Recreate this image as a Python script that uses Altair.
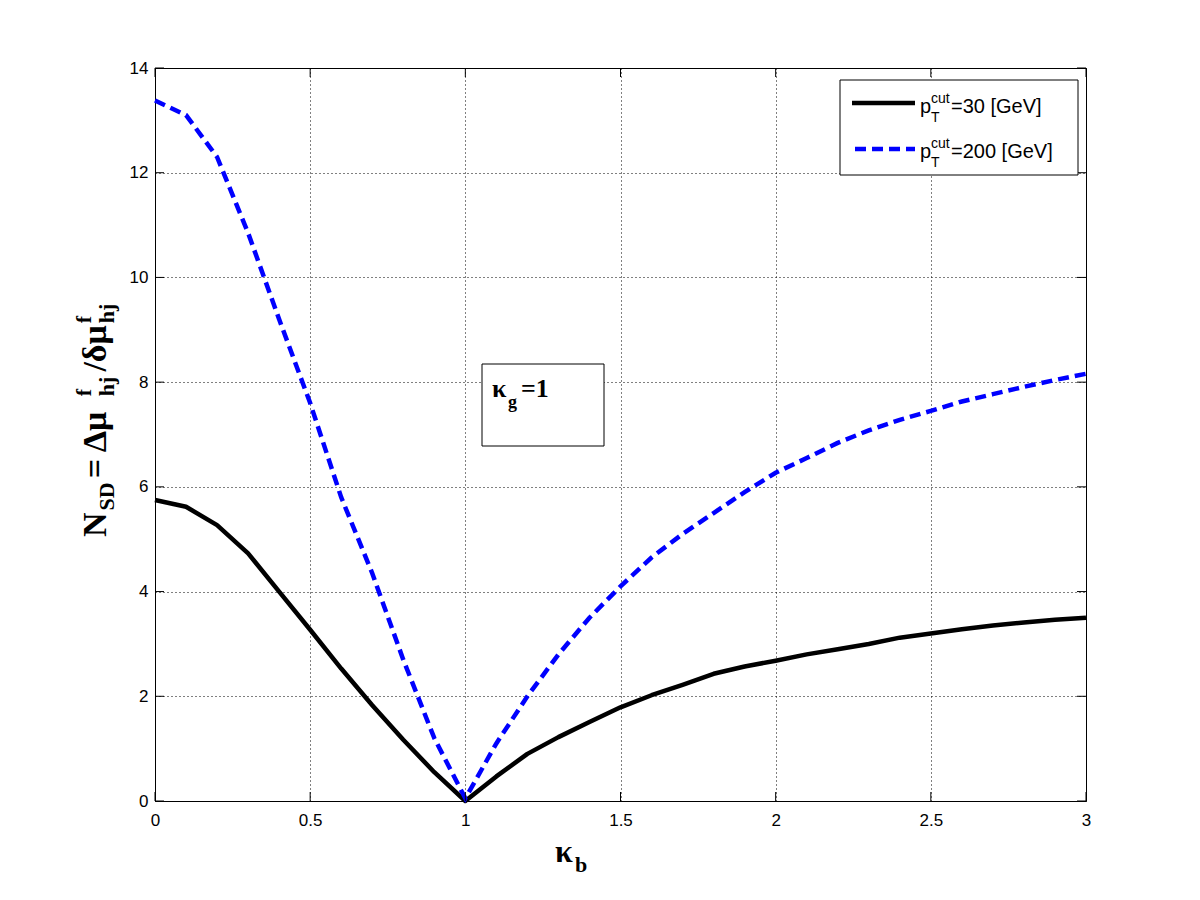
import altair as alt
import pandas as pd

# ---- data ----
kappa_b = [0.0, 0.1, 0.2, 0.3, 0.4, 0.5, 0.6, 0.7, 0.8, 0.9, 1.0,
           1.1, 1.2, 1.3, 1.4, 1.5, 1.6, 1.7, 1.8, 1.9, 2.0,
           2.1, 2.2, 2.3, 2.4, 2.5, 2.6, 2.7, 2.8, 2.9, 3.0]
nsd_30 = [5.75, 5.62, 5.27, 4.73, 4.0, 3.27, 2.53, 1.83, 1.17, 0.55, 0.0,
          0.47, 0.9, 1.22, 1.51, 1.79, 2.02, 2.22, 2.43, 2.57, 2.68,
          2.8, 2.9, 3.0, 3.12, 3.2, 3.28, 3.35, 3.41, 3.46, 3.5]
nsd_200 = [13.38, 13.1, 12.3, 10.85, 9.2, 7.6, 5.8, 4.35, 2.7, 1.2, 0.05,
           1.1, 2.0, 2.8, 3.5, 4.1, 4.65, 5.1, 5.5, 5.9, 6.27,
           6.55, 6.84, 7.08, 7.28, 7.45, 7.63, 7.77, 7.91, 8.04, 8.16]
series_names = ["pT30", "pT200"]
x_ticks = [0, 0.5, 1, 1.5, 2, 2.5, 3]
y_ticks = [0, 2, 4, 6, 8, 10, 12, 14]

W, H = 931, 733

rows = []
for name, vals in zip(series_names, [nsd_30, nsd_200]):
    for xv, yv in zip(kappa_b, vals):
        rows.append({"kb": xv, "nsd": yv, "series": name})
df = pd.DataFrame(rows)
one = pd.DataFrame({"a": [0]})

xs = alt.Scale(domain=[0, 3], nice=False, zero=False)
ys = alt.Scale(domain=[0, 14], nice=False, zero=False)

base = alt.Chart(df).encode(
    x=alt.X("kb:Q", scale=xs,
            axis=alt.Axis(values=x_ticks, title=None, ticks=False, domain=False,
                          grid=True, labelPadding=11, format="~g", labelFlush=False)),
    y=alt.Y("nsd:Q", scale=ys,
            axis=alt.Axis(values=y_ticks, title=None, ticks=False, domain=False,
                          grid=True, labelPadding=7, format="~g", labelFlush=False)),
)
line30 = base.transform_filter(alt.datum.series == "pT30").mark_line(
    color="#000000", strokeWidth=4.5, strokeJoin="round")
line200 = base.transform_filter(alt.datum.series == "pT200").mark_line(
    color="#0000FF", strokeWidth=4.5, strokeDash=[11, 6])

tdf_x = pd.DataFrame({"t": x_ticks})
tdf_y = pd.DataFrame({"t": y_ticks})
tick_b = alt.Chart(tdf_x).mark_rule(color="black", strokeWidth=1).encode(
    x=alt.X("t:Q", scale=xs), y=alt.value(H), y2=alt.value(H - 9))
tick_t = alt.Chart(tdf_x).mark_rule(color="black", strokeWidth=1).encode(
    x=alt.X("t:Q", scale=xs), y=alt.value(0), y2=alt.value(9))
tick_l = alt.Chart(tdf_y).mark_rule(color="black", strokeWidth=1).encode(
    y=alt.Y("t:Q", scale=ys), x=alt.value(0), x2=alt.value(9))
tick_r = alt.Chart(tdf_y).mark_rule(color="black", strokeWidth=1).encode(
    y=alt.Y("t:Q", scale=ys), x=alt.value(W), x2=alt.value(W - 9))


def txt(s, x, y, size, font="Liberation Serif", weight="bold", angle=0):
    return alt.Chart(one).mark_text(
        text=s, font=font, fontWeight=weight, fontSize=size, angle=angle,
        align="left", baseline="alphabetic", color="black"
    ).encode(x=alt.value(x), y=alt.value(y))


def box(x1, y1, x2, y2):
    return alt.Chart(one).mark_rect(fill="white", stroke="black", strokeWidth=1).encode(
        x=alt.value(x1), x2=alt.value(x2), y=alt.value(y1), y2=alt.value(y2))


layers = [line30, line200, tick_b, tick_t, tick_l, tick_r]

# legend
layers.append(box(685, 12, 923, 107))
layers.append(alt.Chart(one).mark_rule(color="black", strokeWidth=4.5).encode(
    x=alt.value(697), x2=alt.value(760), y=alt.value(35)))
layers.append(alt.Chart(one).mark_rule(color="#0000FF", strokeWidth=4.5, strokeDash=[11, 6]).encode(
    x=alt.value(700), x2=alt.value(760), y=alt.value(81)))
sans = "Liberation Sans"
for dy, label in [(0, "=30 [GeV]"), (45, "=200 [GeV]")]:
    layers.append(txt("p", 765, 45 + dy, 20, font=sans, weight="normal"))
    layers.append(txt("cut", 776, 35 + dy, 14, font=sans, weight="normal"))
    layers.append(txt("T", 776, 54 + dy, 14, font=sans, weight="normal"))
    layers.append(txt(label, 796, 45 + dy, 20, font=sans, weight="normal"))

# kappa_g annotation
layers.append(box(327, 296, 449, 378))
layers.append(txt("κ", 337, 329, 26))
layers.append(txt("g", 353, 340, 18))
layers.append(txt("=1", 366, 329, 26))

# x-axis title
layers.append(txt("κ", 400, 794, 32))
layers.append(txt("b", 420, 804, 22))

# y-axis title (rotated, composed from pieces, bottom to top)
bx = -49
ystart = 469
main, sub = 34, 22
pieces = [
    ("N", main, 0, 0.722 * main + 2),
    ("SD", sub, 8, 1.278 * sub + 4),
    (" = Δμ", main, 0, 2.24 * main + 6),
    ("hj", sub, 8, 0.889 * sub + 5),
    ("/δμ", main, 0, 1.334 * main + 3),
    ("hj", sub, 8, 0.889 * sub),
]
cur = ystart
for s, sz, shift, adv in pieces:
    layers.append(txt(s, bx + shift, cur, sz, angle=270))
    if s == "hj":
        layers.append(txt("f", bx - 15, cur, sub, angle=270))
    cur -= adv

chart = alt.layer(*layers).properties(
    width=W, height=H,
    padding={"left": 147, "top": 60, "right": 100, "bottom": 90},
    autosize=alt.AutoSizeParams(type="none"),
    background="white",
).configure_view(
    stroke="black", strokeWidth=1
).configure_axis(
    labelFont="Liberation Sans", labelFontSize=17, labelColor="black",
    gridColor="black", gridDash=[1, 3], gridOpacity=1, gridWidth=1,
)

chart.save("out.html", embed_options={"renderer": "svg", "actions": False})
